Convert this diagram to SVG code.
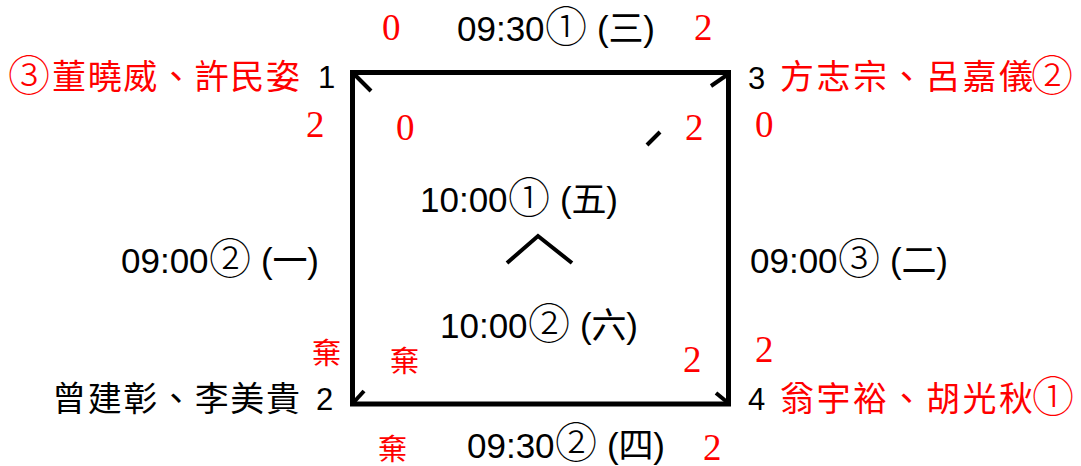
<svg xmlns="http://www.w3.org/2000/svg" width="1081" height="466" viewBox="0 0 1081 466">
<style>
.t{font-family:"Liberation Sans","Noto Sans CJK TC",sans-serif;font-size:35px;fill:#000}
.c{font-family:"Noto Sans CJK TC",sans-serif;font-size:42px;font-weight:300}
.k{font-family:"Noto Sans CJK TC",sans-serif;font-size:34px}
.n{font-family:"Liberation Sans",sans-serif;font-size:31px;fill:#000}
.r{font-family:"Liberation Serif","Noto Serif CJK TC","Noto Sans CJK TC",serif;font-size:37px;fill:#FF0000}
.q{font-family:"Noto Sans CJK TC",serif;font-size:29px;fill:#FF0000}
.red{fill:#FF0000}
.e{stroke:#000;stroke-width:5;fill:none;stroke-linecap:square}
.m{stroke:#000;stroke-width:4;fill:none;stroke-linecap:butt}
</style>
<rect width="1081" height="466" fill="#fff"/>
<g id="connectors">
<path class="e" d="M352.5 72.5 H728.5 V404 H352.5 Z"/>
<line class="m" x1="354" y1="74" x2="371" y2="91"/>
<line class="m" x1="727" y1="75" x2="711" y2="86"/>
<line class="m" x1="647" y1="145" x2="660" y2="132"/>
<line class="m" x1="354" y1="402" x2="364" y2="391"/>
<line class="m" x1="716" y1="393" x2="727" y2="402"/>
<polyline class="m" points="507,263 538,236 572,263"/>
</g>
<g id="node-1">
<text x="8" y="91" class="c red">③</text>
<text x="52" y="89" class="k red" textLength="248">董曉威、許民姿</text>
<text x="318" y="88" class="n">1</text>
</g>
<g id="node-3">
<text x="748" y="89" class="n">3</text>
<text x="780" y="89" class="k red" textLength="253">方志宗、呂嘉儀</text>
<text x="1031" y="91" class="c red">②</text>
</g>
<g id="node-2">
<text x="52" y="411" class="k" textLength="248">曾建彰、李美貴</text>
<text x="316" y="410" class="n">2</text>
</g>
<g id="node-4">
<text x="748" y="410" class="n">4</text>
<text x="780" y="411" class="k red" textLength="253">翁宇裕、胡光秋</text>
<text x="1032" y="412" class="c red">①</text>
</g>
<g id="labels">
<text x="457" y="41" class="t">09:30</text><text x="545" y="42" class="c">①</text><text x="597" y="41" class="t" textLength="58">(三)</text>
<text x="121" y="273" class="t">09:00</text><text x="209" y="274" class="c">②</text><text x="261" y="273" class="t" textLength="58">(一)</text>
<text x="750" y="273" class="t">09:00</text><text x="838" y="274" class="c">③</text><text x="890" y="273" class="t" textLength="58">(二)</text>
<text x="420" y="212" class="t">10:00</text><text x="508" y="213" class="c">①</text><text x="560" y="212" class="t" textLength="58">(五)</text>
<text x="440" y="338" class="t">10:00</text><text x="528" y="339" class="c">②</text><text x="580" y="338" class="t" textLength="58">(六)</text>
<text x="467" y="458" class="t">09:30</text><text x="555" y="458" class="c">②</text><text x="607" y="458" class="t" textLength="58">(四)</text>
<text x="382" y="40" class="r">0</text>
<text x="694" y="40" class="r">2</text>
<text x="306" y="137" class="r">2</text>
<text x="396" y="140" class="r">0</text>
<text x="685" y="140" class="r">2</text>
<text x="755" y="137" class="r">0</text>
<text x="312" y="364" class="q">棄</text>
<text x="390" y="372" class="q">棄</text>
<text x="683" y="372" class="r">2</text>
<text x="755" y="362" class="r">2</text>
<text x="378" y="460" class="q">棄</text>
<text x="703" y="460" class="r">2</text>
</g>
</svg>
